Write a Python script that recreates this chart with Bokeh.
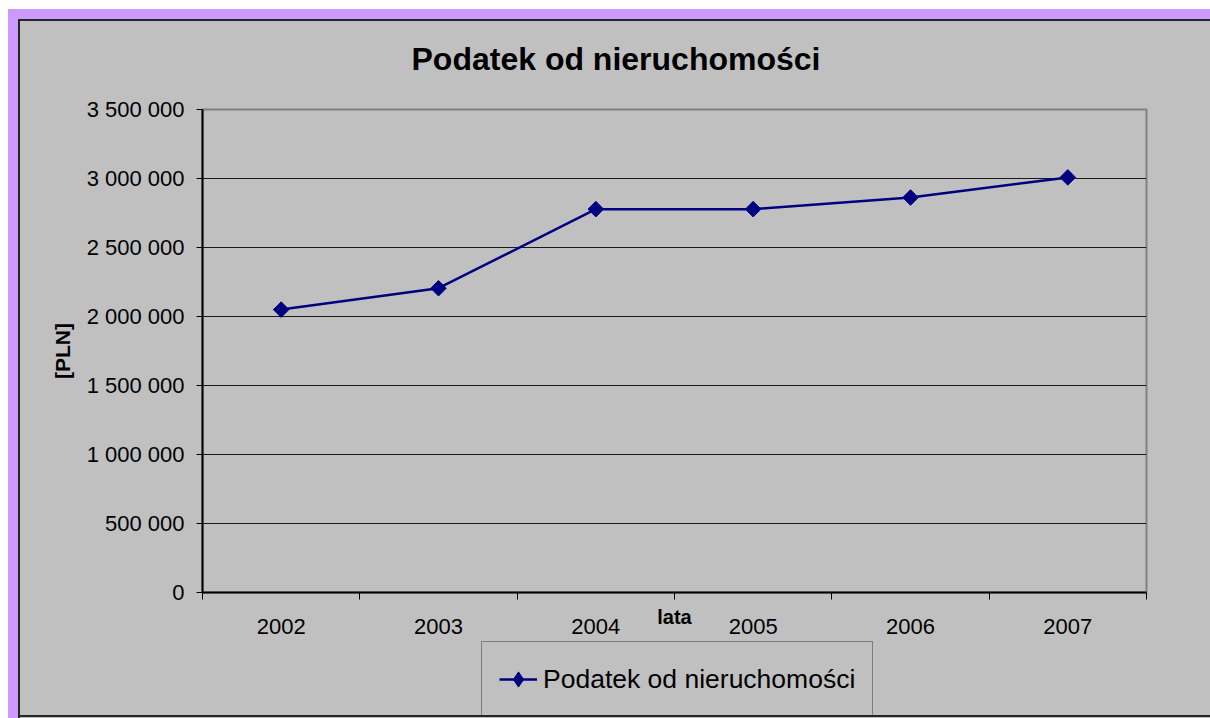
import numpy as np
from bokeh.plotting import figure
from bokeh.models import Range1d, FixedTicker, Legend, LegendItem, Div
from bokeh.layouts import column, row
from bokeh.embed import file_html
from bokeh.resources import INLINE

# ---- data ----
years = ["2002", "2003", "2004", "2005", "2006", "2007"]
tax = [2050000, 2205000, 2778000, 2778000, 2862000, 3008000]
y_ticks = [0, 500000, 1000000, 1500000, 2000000, 2500000, 3000000, 3500000]
y_tick_labels = ["0", "500 000", "1 000 000", "1 500 000", "2 000 000",
                 "2 500 000", "3 000 000", "3 500 000"]
title_text = "Podatek od nieruchomości"
x_label = "lata"
y_label = "[PLN]"
series_name = "Podatek od nieruchomości"

# ---- style ----
LAV = "#CC99FF"
GRAY = "#C0C0C0"
NAVY = "#000080"
BLK = "#262626"
FONT = "Liberation Sans"
W = 1190
TH, PH, LH = 74, 546, 74
BL, BR = 182, 64

# ---- title strip ----
pt = figure(width=W, height=TH, output_backend="svg", toolbar_location=None,
            x_axis_location=None, y_axis_location=None,
            min_border_left=BL, min_border_right=BR,
            min_border_top=0, min_border_bottom=0)
pt.background_fill_alpha = 0
pt.border_fill_color = GRAY
pt.outline_line_color = None
pt.grid.visible = False
pt.title.text = title_text
pt.title.align = "left"
pt.title.offset = 209
pt.title.text_font = FONT
pt.title.text_font_size = "32px"
pt.title.text_font_style = "bold"
pt.title.text_color = "black"
pt.title.standoff = 34

# ---- main plot ----
p = figure(width=W, height=PH, output_backend="svg", toolbar_location=None,
           x_range=Range1d(0, len(years)), y_range=Range1d(0, y_ticks[-1]),
           min_border_left=BL, min_border_right=BR, min_border_top=14,
           min_border_bottom=49)
p.background_fill_color = GRAY
p.border_fill_color = GRAY
p.outline_line_color = "#808080"
p.outline_line_width = 2

xs = np.arange(len(years)) + 0.5

p.line(xs, tax, line_color=NAVY, line_width=2.5)
p.scatter(xs, tax, marker="square", size=11, angle=np.pi / 4, color=NAVY)

xa = p.below[0]
ya = p.left[0]

# x axis
xa.ticker = FixedTicker(ticks=list(xs), minor_ticks=list(range(len(years) + 1)))
xa.major_label_overrides = {float(x): y for x, y in zip(xs, years)}
xa.major_tick_out = 0
xa.major_tick_in = 0
xa.minor_tick_out = 7
xa.minor_tick_in = 0
xa.minor_tick_line_color = "black"
xa.axis_line_color = "black"
xa.axis_line_width = 2
xa.major_label_text_font = FONT
xa.major_label_text_font_size = "22px"
xa.major_label_text_color = "black"
xa.major_label_standoff = 19
xa.axis_label = x_label
xa.axis_label_text_font = FONT
xa.axis_label_text_font_size = "20px"
xa.axis_label_text_font_style = "bold"
xa.axis_label_text_color = "black"
xa.axis_label_standoff = -31

# y axis
ya.ticker = FixedTicker(ticks=y_ticks)
ya.major_label_overrides = {t: s for t, s in zip(y_ticks, y_tick_labels)}
ya.major_tick_out = 6
ya.major_tick_in = 0
ya.minor_tick_out = 0
ya.minor_tick_in = 0
ya.major_tick_line_color = "black"
ya.axis_line_color = "black"
ya.axis_line_width = 2
ya.major_label_text_font = FONT
ya.major_label_text_font_size = "22px"
ya.major_label_text_color = "black"
ya.major_label_standoff = 12
ya.axis_label = y_label
ya.axis_label_text_font = FONT
ya.axis_label_text_font_size = "21px"
ya.axis_label_text_font_style = "bold"
ya.axis_label_text_color = "black"
ya.axis_label_standoff = 10

p.xgrid.visible = False
p.ygrid.ticker = FixedTicker(ticks=y_ticks)
p.ygrid.grid_line_color = "#1a1a1a"
p.ygrid.grid_line_width = 1

# ---- legend strip (separate figure so the legend box is not clipped by the plot frame) ----
pl = figure(width=W, height=LH, output_backend="svg", toolbar_location=None,
            x_axis_location=None, y_axis_location=None,
            min_border_left=BL, min_border_right=BR,
            min_border_top=0, min_border_bottom=0)
pl.background_fill_alpha = 0
pl.border_fill_color = GRAY
pl.outline_line_color = None
pl.grid.visible = False
l_line = pl.line(xs, tax, line_color=NAVY, line_width=2.5, visible=False)
l_dia = pl.scatter(xs, tax, marker="diamond", size=15, color=NAVY, visible=False)

legend = Legend(items=[LegendItem(label=series_name, renderers=[l_line, l_dia])],
                location=(279, -2), orientation="vertical",
                padding=17, margin=0, spacing=0,
                glyph_width=38, glyph_height=40, label_height=40,
                label_standoff=6,
                label_text_font=FONT, label_text_font_size="26.5px",
                label_text_color="black",
                border_line_color="#3a3a3a", border_line_width=1.5,
                background_fill_color=GRAY, background_fill_alpha=1)
pl.add_layout(legend)


def blk(w, h, color=None):
    st = {"background-color": color} if color else {}
    return Div(text="", width=w, height=h, styles=st, margin=0)


inner = column(pt, p, pl, blk(W, 2, BLK), blk(W, 1, GRAY),
               styles={"background-color": GRAY})

layout = column(
    blk(1210, 9),
    row(
        blk(8, 709),
        column(
            blk(1202, 10, LAV),
            row(
                blk(10, 699, LAV),
                column(
                    blk(1192, 2, BLK),
                    row(blk(2, 697, BLK), inner),
                ),
            ),
        ),
    ),
)

open("out.html", "w").write(file_html(layout, INLINE))
